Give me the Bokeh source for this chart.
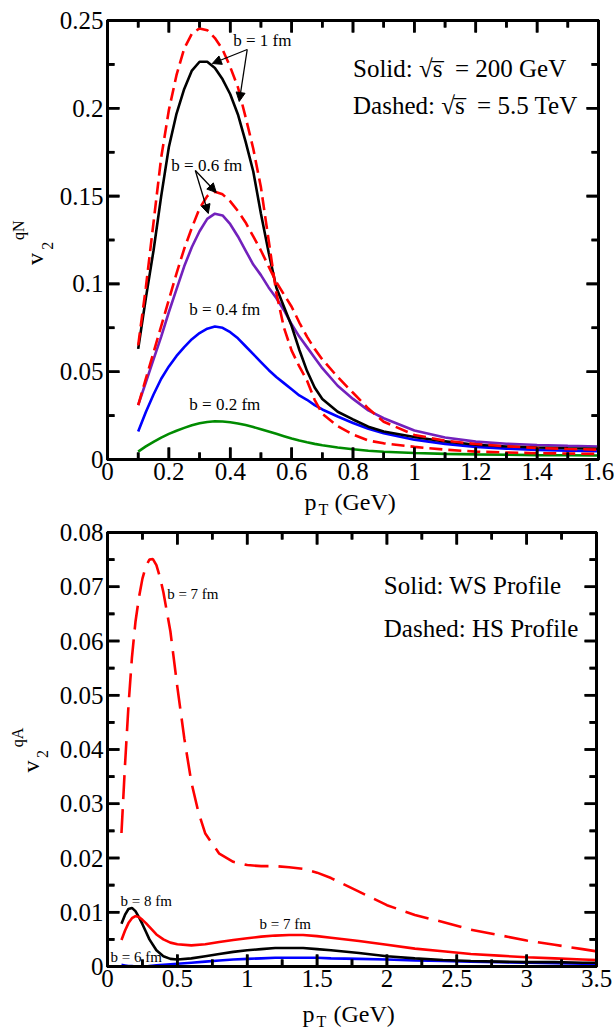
from bokeh.plotting import figure
from bokeh.models import FixedTicker, Label, Arrow, NormalHead, CustomJSTickFormatter, Range1d
from bokeh.layouts import column, row
from bokeh.core.properties import value
from bokeh.embed import file_html
from bokeh.resources import INLINE
import math

# ---------------- data: top panel (quark-nucleon) ----------------
PT_N = [0.1, 0.125, 0.15, 0.175, 0.2, 0.225, 0.25, 0.275, 0.3, 0.325, 0.35, 0.375,
        0.4, 0.425, 0.45, 0.475, 0.5, 0.525, 0.55, 0.575, 0.6, 0.625, 0.65, 0.675,
        0.7, 0.75, 0.8, 0.85, 0.9, 1.0, 1.1, 1.2, 1.3, 1.4, 1.5, 1.6]
V2N_B1_200 = [0.063, 0.092, 0.119, 0.150, 0.178, 0.197, 0.211, 0.2215, 0.2265, 0.2265, 0.223, 0.2165,
              0.208, 0.1965, 0.181, 0.164, 0.140, 0.118, 0.098, 0.087, 0.076, 0.0625, 0.0505, 0.041,
              0.0345, 0.0272, 0.0228, 0.0187, 0.0160, 0.0128, 0.0103, 0.0084, 0.0074, 0.0068, 0.0064, 0.0061]
V2N_B1_5500 = [0.065, 0.098, 0.135, 0.172, 0.199, 0.219, 0.234, 0.2425, 0.2455, 0.2445, 0.240, 0.2335,
               0.2235, 0.212, 0.195, 0.177, 0.155, 0.125, 0.095, 0.075, 0.062, 0.053, 0.045, 0.034,
               0.026, 0.019, 0.0142, 0.0108, 0.0092, 0.0072, 0.0056, 0.0045, 0.0040, 0.0036, 0.0034, 0.0032]
V2N_B06_200 = [0.031, 0.044, 0.057, 0.070, 0.084, 0.097, 0.110, 0.121, 0.130, 0.137, 0.140, 0.139,
               0.134, 0.127, 0.119, 0.111, 0.105, 0.098, 0.092, 0.085, 0.077, 0.070, 0.064, 0.058,
               0.052, 0.042, 0.0345, 0.028, 0.0235, 0.0165, 0.0125, 0.0102, 0.0090, 0.0083, 0.0078, 0.0074]
V2N_B06_5500 = [0.031, 0.046, 0.061, 0.076, 0.091, 0.106, 0.120, 0.132, 0.143, 0.150, 0.1525, 0.151,
                0.147, 0.1415, 0.135, 0.127, 0.119, 0.110, 0.101, 0.094, 0.087, 0.078, 0.070, 0.063,
                0.057, 0.047, 0.038, 0.029, 0.0215, 0.0140, 0.0107, 0.0088, 0.0075, 0.0066, 0.0060, 0.0056]
V2N_B04_200 = [0.016, 0.027, 0.037, 0.046, 0.053, 0.059, 0.064, 0.0685, 0.072, 0.0745, 0.0757, 0.075,
               0.0725, 0.069, 0.0645, 0.060, 0.0555, 0.051, 0.047, 0.0435, 0.040, 0.0365, 0.034, 0.031,
               0.0285, 0.0245, 0.0208, 0.0175, 0.0150, 0.0113, 0.0089, 0.0072, 0.0062, 0.0055, 0.0050, 0.0047]
V2N_B02_200 = [0.0045, 0.0075, 0.0101, 0.0125, 0.0146, 0.0164, 0.0180, 0.0195, 0.0206, 0.0214, 0.0218, 0.0216,
               0.0212, 0.0205, 0.0196, 0.0185, 0.0172, 0.0159, 0.0146, 0.0133, 0.0120, 0.0108, 0.0098, 0.0089,
               0.0081, 0.0068, 0.0058, 0.0050, 0.0044, 0.0037, 0.0032, 0.0029, 0.0027, 0.0025, 0.0024, 0.0023]

# ---------------- data: bottom panel (quark-nucleus) ----------------
PT_WS = [0.1, 0.125, 0.15, 0.175, 0.2, 0.225, 0.25, 0.275, 0.3, 0.35, 0.4, 0.45, 0.5,
         0.6, 0.7, 0.8, 0.9, 1.0, 1.1, 1.2, 1.3, 1.4, 1.5, 1.6, 1.8, 2.0, 2.2, 2.4, 2.6,
         2.8, 3.0, 3.2, 3.4, 3.5]
V2A_WS_B8 = [0.0079, 0.0095, 0.0106, 0.0108, 0.0102, 0.0091, 0.0078, 0.0064, 0.0050, 0.0030, 0.0019, 0.0014, 0.0013,
             0.0015, 0.0019, 0.0023, 0.0027, 0.0030, 0.0032, 0.0034, 0.0034, 0.0034, 0.0032, 0.0030, 0.0025, 0.0019,
             0.0015, 0.0012, 0.0010, 0.0009, 0.0008, 0.0008, 0.0007, 0.0007]
V2A_WS_B7 = [0.0049, 0.0066, 0.0080, 0.0089, 0.0093, 0.0091, 0.0086, 0.0080, 0.0073, 0.0059, 0.0050, 0.0044, 0.0041,
             0.0039, 0.0041, 0.0045, 0.0049, 0.0052, 0.0055, 0.0057, 0.0058, 0.0058, 0.0056, 0.0053, 0.0047, 0.0040,
             0.0033, 0.0028, 0.0023, 0.0020, 0.0017, 0.0015, 0.0013, 0.0012]
V2A_WS_B6 = [0.0003, 0.0002, 0.0001, 0.0001, 0.0000, 0.0000, 0.0000, 0.0000, 0.0001, 0.0002, 0.0003, 0.0004, 0.0005,
             0.0007, 0.0009, 0.0011, 0.0013, 0.0014, 0.0015, 0.0016, 0.0016, 0.0016, 0.0016, 0.0015, 0.0014, 0.0013,
             0.0011, 0.0010, 0.0009, 0.0008, 0.0007, 0.0006, 0.0005, 0.0005]
PT_HS = [0.1, 0.125, 0.15, 0.175, 0.2, 0.225, 0.25, 0.275, 0.3, 0.325, 0.35, 0.375, 0.4,
         0.45, 0.5, 0.55, 0.6, 0.65, 0.7, 0.8, 0.9, 1.0, 1.1, 1.2, 1.3, 1.4, 1.5, 1.6,
         1.8, 2.0, 2.2, 2.4, 2.6, 2.8, 3.0, 3.2, 3.4, 3.5]
V2A_HS_B7 = [0.0246, 0.037, 0.048, 0.057, 0.0635, 0.068, 0.0715, 0.0738, 0.0750, 0.0751, 0.0740, 0.0718, 0.0690,
             0.0618, 0.0515, 0.0420, 0.0340, 0.0285, 0.0245, 0.0208, 0.0193, 0.0187, 0.0185, 0.0185, 0.0183, 0.0180,
             0.0173, 0.0163, 0.0138, 0.0113, 0.0095, 0.0082, 0.0068, 0.0058, 0.0048, 0.0040, 0.0032, 0.0028]

# ---------------- ticks ----------------
X1_MAJOR = [0, 0.2, 0.4, 0.6, 0.8, 1.0, 1.2, 1.4, 1.6]
X1_MINOR = [0.1, 0.3, 0.5, 0.7, 0.9, 1.1, 1.3, 1.5]
Y1_MAJOR = [0, 0.05, 0.1, 0.15, 0.2, 0.25]
Y1_MINOR = [0.025, 0.075, 0.125, 0.175, 0.225]
X2_MAJOR = [0, 0.5, 1.0, 1.5, 2.0, 2.5, 3.0, 3.5]
X2_MINOR = [0.25, 0.75, 1.25, 1.75, 2.25, 2.75, 3.25]
Y2_MAJOR = [0, 0.01, 0.02, 0.03, 0.04, 0.05, 0.06, 0.07, 0.08]
Y2_MINOR = [0.005, 0.015, 0.025, 0.035, 0.045, 0.055, 0.065, 0.075]

FONT = "Liberation Serif"
RED, BLACK, BLUE, PURPLE, GREEN = "#ff0000", "#000000", "#0000ff", "#7221bc", "#008b00"
FMT = "return String(parseFloat(tick.toFixed(4)));"
TOTAL_W = 614
YT_W = 56          # width of the strip holding the rotated y-axis title
BASE_SHIFT = 0.33  # Bokeh draws 'alphabetic' text ~0.33em low; compensate
ROT_SHIFT = 7      # rotated titles are drawn a little high; compensate (px)
MAJ_LEN, MIN_LEN, TICK_W = 12, 7, 2.6


def px(size):
    return float(size.replace("px", ""))


def make_fig(xr, yr, h, borders, xt, yt):
    left, right, top, bottom = borders
    w = TOTAL_W - YT_W
    p = figure(width=w, height=h, x_range=Range1d(*xr), y_range=Range1d(*yr),
               output_backend="svg", toolbar_location=None,
               min_border_left=left, min_border_right=right,
               min_border_top=top, min_border_bottom=bottom)
    p.grid.visible = False
    p.outline_line_color = "black"
    p.outline_line_width = 3
    p.xaxis.ticker = FixedTicker(ticks=xt[0], minor_ticks=xt[1])
    p.yaxis.ticker = FixedTicker(ticks=yt[0], minor_ticks=yt[1])
    for ax in p.xaxis + p.yaxis:
        ax.axis_line_width = 3
        ax.axis_line_color = "black"
        ax.major_tick_in = 0
        ax.major_tick_out = 0
        ax.minor_tick_in = 0
        ax.minor_tick_out = 0
        ax.major_tick_line_color = None
        ax.minor_tick_line_color = None
        ax.major_label_text_font = FONT
        ax.major_label_text_font_size = "25px"
        ax.major_label_text_color = "black"
        ax.formatter = CustomJSTickFormatter(code=FMT)
    p.xaxis.major_label_standoff = 3
    p.yaxis.major_label_standoff = 4
    return p


def add_frame_ticks(p, xr, yr, xt, yt, borders, h):
    """Inward tick marks on all four frame edges: thin filled bars plus a comb polyline per edge."""
    left, right, top, bottom = borders
    w = TOTAL_W - YT_W
    ppx = (w - left - right) / (xr[1] - xr[0])
    ppy = (h - top - bottom) / (yr[1] - yr[0])
    hx, hy = TICK_W / 2 / ppx, TICK_W / 2 / ppy
    L_, R_, B_, T_ = [], [], [], []
    for ticks, L in ((xt[0], MAJ_LEN), (xt[1], MIN_LEN)):
        for t in ticks:
            t = float(t)
            L_ += [t - hx, t - hx]
            R_ += [t + hx, t + hx]
            B_ += [yr[0], yr[1] - L / ppy]
            T_ += [yr[0] + L / ppy, yr[1]]
    for ticks, L in ((yt[0], MAJ_LEN), (yt[1], MIN_LEN)):
        for t in ticks:
            t = float(t)
            L_ += [xr[0], xr[1] - L / ppx]
            R_ += [xr[0] + L / ppx, xr[1]]
            B_ += [t - hy, t - hy]
            T_ += [t + hy, t + hy]
    p.quad(left=L_, right=R_, bottom=B_, top=T_, fill_color="black", line_color=None, level="overlay")

    # comb polylines running along each edge with an inward excursion at every tick
    xs_ticks = sorted([(float(t), MAJ_LEN) for t in xt[0]] + [(float(t), MIN_LEN) for t in xt[1]])
    ys_ticks = sorted([(float(t), MAJ_LEN) for t in yt[0]] + [(float(t), MIN_LEN) for t in yt[1]])
    for edge, sgn in ((float(yr[0]), 1), (float(yr[1]), -1)):
        cx, cy = [], []
        for t, L in xs_ticks:
            cx += [t, t, t]
            cy += [edge, edge + sgn * L / ppy, edge]
        p.line(cx, cy, line_color="black", line_width=TICK_W, level="overlay")
    for edge, sgn in ((float(xr[0]), 1), (float(xr[1]), -1)):
        cx, cy = [], []
        for t, L in ys_ticks:
            cx += [edge, edge + sgn * L / ppx, edge]
            cy += [t, t, t]
        p.line(cx, cy, line_color="black", line_width=TICK_W, level="overlay")


def strip(w, h):
    f = figure(width=w, height=h, x_range=Range1d(0, w), y_range=Range1d(0, h),
               output_backend="svg", toolbar_location=None, min_border=0,
               x_axis_type=None, y_axis_type=None)
    f.grid.visible = False
    f.outline_line_color = None
    return f


def strip_text(f, top, h, items, rotated=False):
    # items: (page_x, page_y_baseline, text, size); for rotated text page_x is the baseline
    for x0, y0, txt, size in items:
        s = BASE_SHIFT * px(size)
        if rotated:
            x, y, ang = x0 - s, h - (y0 + ROT_SHIFT - top), math.pi / 2
        else:
            x, y, ang = x0, h - (y0 - s - top), 0.0
        f.text(x=[x], y=[y], text=[txt], angle=ang,
               text_font=value(FONT), text_font_size=value(size), text_color="black",
               text_align="left", text_baseline="alphabetic")


def add_text(p, conv, x0, y0, text, size):
    x, y = conv(x0, y0 - BASE_SHIFT * px(size))
    p.add_layout(Label(x=x, y=y, text=text, text_font=FONT, text_font_size=size,
                       text_color="black", text_align="left", text_baseline="alphabetic"))


def add_arrow(p, conv, p0, p1):
    x0, y0 = conv(*p0)
    x1, y1 = conv(*p1)
    p.add_layout(Arrow(x_start=x0, y_start=y0, x_end=x1, y_end=y1, line_width=1.3,
                       line_color="black",
                       end=NormalHead(size=9, fill_color="black", line_color="black", line_width=1)))


# ---------------- top panel ----------------
H1 = 490
B1 = (106 - YT_W, 16, 20, 31)
p1 = make_fig((0, 1.6), (0, 0.25), H1, B1, (X1_MAJOR, X1_MINOR), (Y1_MAJOR, Y1_MINOR))


def top_xy(x, y):
    return (x - 106) / 307.5, (459 - y) / 1756


DASH_TOP = "13 6"
p1.line(PT_N, V2N_B02_200, line_color=GREEN, line_width=2.6)
p1.line(PT_N, V2N_B04_200, line_color=BLUE, line_width=2.6)
p1.line(PT_N, V2N_B06_200, line_color=PURPLE, line_width=2.6)
p1.line(PT_N, V2N_B1_200, line_color=BLACK, line_width=2.6)
p1.line(PT_N, V2N_B06_5500, line_color=RED, line_width=2.6, line_dash=DASH_TOP)
p1.line(PT_N, V2N_B1_5500, line_color=RED, line_width=2.6, line_dash=DASH_TOP)
add_frame_ticks(p1, (0, 1.6), (0, 0.25), (X1_MAJOR, X1_MINOR), (Y1_MAJOR, Y1_MINOR), B1, H1)

add_text(p1, top_xy, 232, 46, "b = 1 fm", "17px")
add_text(p1, top_xy, 170, 171, "b = 0.6 fm", "17px")
add_text(p1, top_xy, 188, 315, "b = 0.4 fm", "17px")
add_text(p1, top_xy, 188, 410, "b = 0.2 fm", "17px")
add_text(p1, top_xy, 352, 76, "Solid: \u221as\u0305\u2002= 200 GeV", "25px")
add_text(p1, top_xy, 352, 113, "Dashed: \u221as\u0305\u2002= 5.5 TeV", "25px")
add_arrow(p1, top_xy, (246, 49), (211, 63))
add_arrow(p1, top_xy, (246, 49), (238, 101))
add_arrow(p1, top_xy, (194, 170), (215, 192))
add_arrow(p1, top_xy, (194, 170), (207, 213))

yt1 = strip(YT_W, H1)
strip_text(yt1, 0, H1, [(42, 266, "v", "24px"), (52, 249, "2", "16px"), (23, 238, "qN", "16px")],
           rotated=True)
XT1_TOP, XT1_H = H1, 518 - H1
xt1 = strip(TOTAL_W, XT1_H)
strip_text(xt1, XT1_TOP, XT1_H, [(304, 509, "p", "24px"), (318, 514, "T", "16px"),
                                  (334, 509, "(GeV)", "24px")])

# ---------------- bottom panel ----------------
P2_TOP = 518
B2 = (104 - YT_W, 18, 14, 31)
H2 = 14 + 434 + 31
p2 = make_fig((0, 3.5), (0, 0.08), H2, B2, (X2_MAJOR, X2_MINOR), (Y2_MAJOR, Y2_MINOR))


def bot_xy(x, y):
    return (x - 104) / 140.57, (966 - y) / 5425


DASH_BOT = "24 10"
p2.line(PT_WS, V2A_WS_B6, line_color=BLUE, line_width=2.6)
p2.line(PT_WS, V2A_WS_B8, line_color=BLACK, line_width=2.6)
p2.line(PT_WS, V2A_WS_B7, line_color=RED, line_width=2.6)
p2.line(PT_HS, V2A_HS_B7, line_color=RED, line_width=2.6, line_dash=DASH_BOT)
add_frame_ticks(p2, (0, 3.5), (0, 0.08), (X2_MAJOR, X2_MINOR), (Y2_MAJOR, Y2_MINOR), B2, H2)

add_text(p2, bot_xy, 164, 598, "b = 7 fm", "15px")
add_text(p2, bot_xy, 117, 905, "b = 8 fm", "15px")
add_text(p2, bot_xy, 257, 928, "b = 7 fm", "15px")
add_text(p2, bot_xy, 107, 961, "b = 6 fm", "15px")
add_text(p2, bot_xy, 382, 593, "Solid: WS Profile", "25px")
add_text(p2, bot_xy, 382, 636, "Dashed: HS Profile", "25px")

yt2 = strip(YT_W, H2)
strip_text(yt2, P2_TOP, H2, [(38, 776, "v", "24px"), (47, 760, "2", "16px"), (22, 748, "qA", "16px")],
           rotated=True)
XT2_TOP = P2_TOP + H2
XT2_H = 1030 - XT2_TOP
xt2 = strip(TOTAL_W, XT2_H)
strip_text(xt2, XT2_TOP, XT2_H, [(302, 1021, "p", "24px"), (316, 1026, "T", "16px"),
                                  (333, 1021, "(GeV)", "24px")])

layout = column(row(yt1, p1), xt1, row(yt2, p2), xt2)
open("out.html", "w").write(file_html(layout, INLINE))
